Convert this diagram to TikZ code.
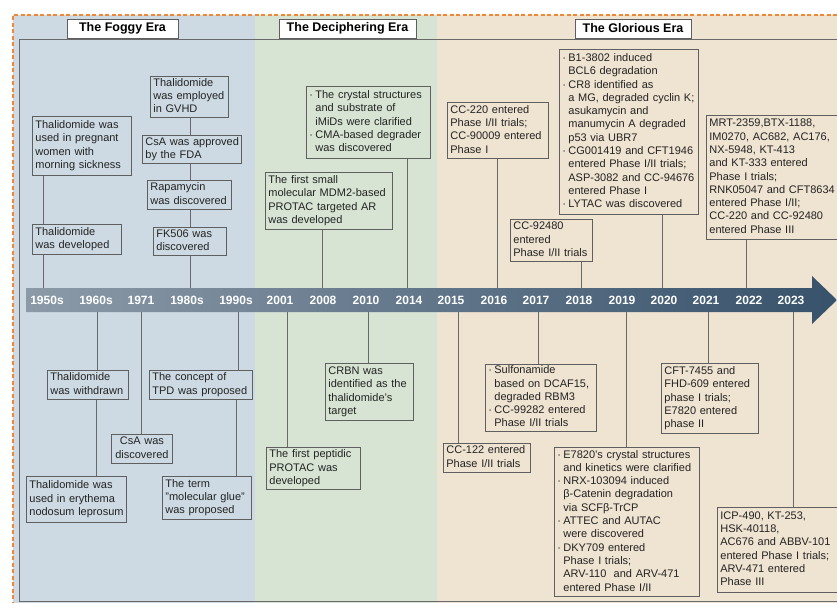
\documentclass[tikz,border=0pt]{standalone}
\usepackage{fontspec}
\setmainfont{Liberation Sans}
\usetikzlibrary{calc}
\definecolor{bluebg}{RGB}{205,218,227}
\definecolor{greenbg}{RGB}{215,228,211}
\definecolor{beigebg}{RGB}{239,227,209}
\definecolor{orangeb}{RGB}{240,135,55}
\definecolor{framec}{RGB}{105,105,105}
\definecolor{boxline}{RGB}{95,95,95}
\definecolor{txt}{RGB}{35,35,35}
\definecolor{barL}{RGB}{140,154,168}
\definecolor{barR}{RGB}{55,82,107}
\newcommand\bu{\makebox[6pt][l]{·}}
\newcommand\ii{\makebox[6pt]{}}
\newcommand\tbox[6]{%
  \pgfmathsetmacro\tw{#4-#2-6}%
  \pgfmathsetmacro\th{#5-#3}%
  \node[evbox, text width=\tw pt, minimum height=\th pt, anchor=north west] (#1) at (#2,#3)
    {\begin{tabular}{@{}l@{}}#6\end{tabular}};}
\newcommand\cbox[6]{%
  \pgfmathsetmacro\tw{#4-#2-6}%
  \pgfmathsetmacro\th{#5-#3}%
  \node[evbox, align=center, text width=\tw pt, minimum height=\th pt, anchor=north west] (#1) at (#2,#3)
    {\begin{tabular}{@{}c@{}}#6\end{tabular}};}
\tikzset{
  evbox/.style={draw=boxline, line width=0.8pt, inner xsep=3pt, inner ysep=0pt, align=left,
    text=txt, font=\fontsize{11}{13.3}\selectfont},
  conn/.style={draw=framec, line width=0.8pt},
  yr/.style={text=white, font=\bfseries\fontsize{12}{14}\selectfont, minimum height=24pt, inner sep=0pt},
  era/.style={draw=boxline, fill=white, line width=0.8pt, minimum height=19pt, inner sep=0pt,
    font=\bfseries\fontsize{12.5}{15}\selectfont}
}
\begin{document}
\begin{tikzpicture}[x=1pt,y=-1pt]
\useasboundingbox (0,0) rectangle (837,602);
\clip (0,0) rectangle (837,602);
\fill[white] (0,0) rectangle (837,602);
% era panels
\fill[bluebg] (13,15) rectangle (255,610);
\fill[greenbg] (255,15) rectangle (437,610);
\fill[beigebg] (437,15) rectangle (850,610);
% orange dashed border
\draw[orangeb, line width=1.4pt, dash pattern=on 4pt off 2.5pt] (850,15) -- (13,15) -- (13,610);
% inner frame
\draw[framec, line width=0.8pt] (19,39) rectangle (860,601);
% era titles
\node[era, minimum width=111pt] (foggy) at (122.5,28.5) {The Foggy Era};
\node[era, minimum width=137pt] (deciph) at (347.5,28.5) {The Deciphering Era};
\node[era, minimum width=116pt] (glor) at (633,28.5) {The Glorious Era};
% timeline arrow
\shade[left color=barL, right color=barR] (26,288) -- (812,288) -- (812,276) -- (837,300)
  -- (812,324) -- (812,312) -- (26,312) -- cycle;
% years
\node[yr] (y1950) at (47,300) {1950s};
\node[yr] (y1960) at (96,300) {1960s};
\node[yr] (y1971) at (141,300) {1971};
\node[yr] (y1980) at (187,300) {1980s};
\node[yr] (y1990) at (236,300) {1990s};
\node[yr] (y2001) at (280,300) {2001};
\node[yr] (y2008) at (323,300) {2008};
\node[yr] (y2010) at (366,300) {2010};
\node[yr] (y2014) at (409,300) {2014};
\node[yr] (y2015) at (451,300) {2015};
\node[yr] (y2016) at (494,300) {2016};
\node[yr] (y2017) at (536,300) {2017};
\node[yr] (y2018) at (579,300) {2018};
\node[yr] (y2019) at (622,300) {2019};
\node[yr] (y2020) at (664,300) {2020};
\node[yr] (y2021) at (706,300) {2021};
\node[yr] (y2022) at (749,300) {2022};
\node[yr] (y2023) at (791,300) {2023};
% connection points on the bar
\coordinate (u1950) at (43,288);
\coordinate (u1980) at (190,288);
\coordinate (u2008) at (322,288);
\coordinate (u2014) at (407,288);
\coordinate (u2016) at (497,288);
\coordinate (u2018) at (581,288);
\coordinate (u2020) at (662,288);
\coordinate (u2022) at (746,288);
\coordinate (d1960) at (97,312);
\coordinate (d1971) at (141,312);
\coordinate (d1990) at (238,312);
\coordinate (d2001) at (287,312);
\coordinate (d2010) at (368,312);
\coordinate (d2015) at (458,312);
\coordinate (d2017) at (538,312);
\coordinate (d2019) at (626,312);
\coordinate (d2021) at (708,312);
\coordinate (d2023) at (793,312);
% upper boxes
\tbox{a1}{32}{116}{131}{175}{Thalidomide was\\used in pregnant\\women with\\morning sickness}
\tbox{a2}{32}{224}{121}{254}{Thalidomide\\was developed}
\tbox{a3}{150}{76}{228}{117}{Thalidomide\\was employed\\in GVHD}
\tbox{a4}{142}{135}{241}{163}{CsA was approved\\by the FDA}
\tbox{a5}{147}{180}{231}{209}{Rapamycin\\was discovered}
\tbox{a6}{153}{227}{226}{255}{FK506 was\\discovered}
\tbox{b1}{265}{172}{392}{229}{The first small\\molecular MDM2-based\\PROTAC targeted AR\\was developed}
\tbox{b2}{306}{86}{430}{158}{\bu The crystal structures\\\ii and substrate of\\\ii iMiDs were clarified\\\bu CMA-based degrader\\\ii was discovered}
\tbox{c1}{447}{102}{548}{158}{CC-220 entered\\Phase I/II trials;\\CC-90009 entered\\Phase I}
\tbox{c2}{510}{219}{592}{261}{CC-92480\\entered\\Phase I/II trials}
\tbox{c3}{559}{49}{698}{214}{\bu B1-3802 induced\\\ii BCL6 degradation\\\bu CR8 identified as\\\ii a MG, degraded cyclin K;\\\ii asukamycin and\\\ii manumycin A degraded\\\ii p53 via UBR7\\\bu CG001419 and CFT1946\\\ii entered Phase I/II trials;\\\ii ASP-3082 and CC-94676\\\ii entered Phase I\\\bu LYTAC was discovered}
\tbox{c4}{706}{115}{845}{239}{MRT-2359,BTX-1188,\\IM0270, AC682, AC176,\\NX-5948, KT-413\\and KT-333 entered\\Phase I trials;\\RNK05047 and CFT8634\\entered Phase I/II;\\CC-220 and CC-92480\\entered Phase III}
% lower boxes
\tbox{d1}{47}{370}{128}{399}{Thalidomide\\was withdrawn}
\tbox{d2}{26}{476}{126}{522}{Thalidomide was\\used in erythema\\nodosum leprosum}
\cbox{d3}{111}{434}{172}{463}{CsA was\\discovered}
\tbox{d4}{149}{370}{252}{399}{The concept of\\TPD was proposed}
\tbox{d5}{162}{476}{251}{519}{The term\\"molecular glue"\\was proposed}
\tbox{e1}{266}{447}{360}{489}{The first peptidic\\PROTAC was\\developed}
\tbox{e2}{325}{363}{413}{420}{CRBN was\\identified as the\\thalidomide's\\target}
\tbox{f1}{443}{443}{530}{472}{CC-122 entered\\Phase I/II trials}
\tbox{f2}{485}{364}{596}{430}{\bu Sulfonamide\\\ii based on DCAF15,\\\ii degraded RBM3\\\bu CC-99282 entered\\\ii Phase I/II trials}
\tbox{f3}{554}{447}{699}{596}{\bu E7820's crystal structures\\\ii and kinetics were clarified\\\bu NRX-103094 induced\\\ii β-Catenin degradation\\\ii via SCFβ-TrCP\\\bu ATTEC and AUTAC\\\ii were discovered\\\bu DKY709 entered\\\ii Phase I trials;\\\ii ARV-110\ \ and ARV-471\\\ii entered Phase I/II}
\tbox{f4}{661}{363}{758}{433}{CFT-7455 and\\FHD-609 entered\\phase I trials;\\E7820 entered\\phase II}
\tbox{f5}{717}{507}{845}{592}{ICP-490, KT-253,\\HSK-40118,\\AC676 and ABBV-101\\entered Phase I trials;\\ARV-471 entered\\Phase III}
% connectors above the bar
\draw[conn] (a1.south -| u1950) -- (a2.north -| u1950);
\draw[conn] (a2.south -| u1950) -- (u1950);
\draw[conn] (a3.south -| u1980) -- (a4.north -| u1980);
\draw[conn] (a4.south -| u1980) -- (a5.north -| u1980);
\draw[conn] (a5.south -| u1980) -- (a6.north -| u1980);
\draw[conn] (a6.south -| u1980) -- (u1980);
\draw[conn] (b1.south -| u2008) -- (u2008);
\draw[conn] (b2.south -| u2014) -- (u2014);
\draw[conn] (c1.south -| u2016) -- (u2016);
\draw[conn] (c2.south -| u2018) -- (u2018);
\draw[conn] (c3.south -| u2020) -- (u2020);
\draw[conn] (c4.south -| u2022) -- (u2022);
% connectors below the bar
\draw[conn] (d1960) -- (d1.north -| d1960);
\draw[conn] ($(d1.south -| d1960)+(-1,0)$) -- ($(d2.north -| d1960)+(-1,0)$);
\draw[conn] (d1971) -- (d3.north -| d1971);
\draw[conn] (d1990) -- (d4.north -| d1990);
\draw[conn] ($(d4.south -| d1990)+(-2,0)$) -- ($(d5.north -| d1990)+(-2,0)$);
\draw[conn] (d2001) -- (e1.north -| d2001);
\draw[conn] (d2010) -- (e2.north -| d2010);
\draw[conn] (d2015) -- (f1.north -| d2015);
\draw[conn] (d2017) -- (f2.north -| d2017);
\draw[conn] (d2019) -- (f3.north -| d2019);
\draw[conn] (d2021) -- (f4.north -| d2021);
\draw[conn] (d2023) -- (f5.north -| d2023);
\end{tikzpicture}
\end{document}
